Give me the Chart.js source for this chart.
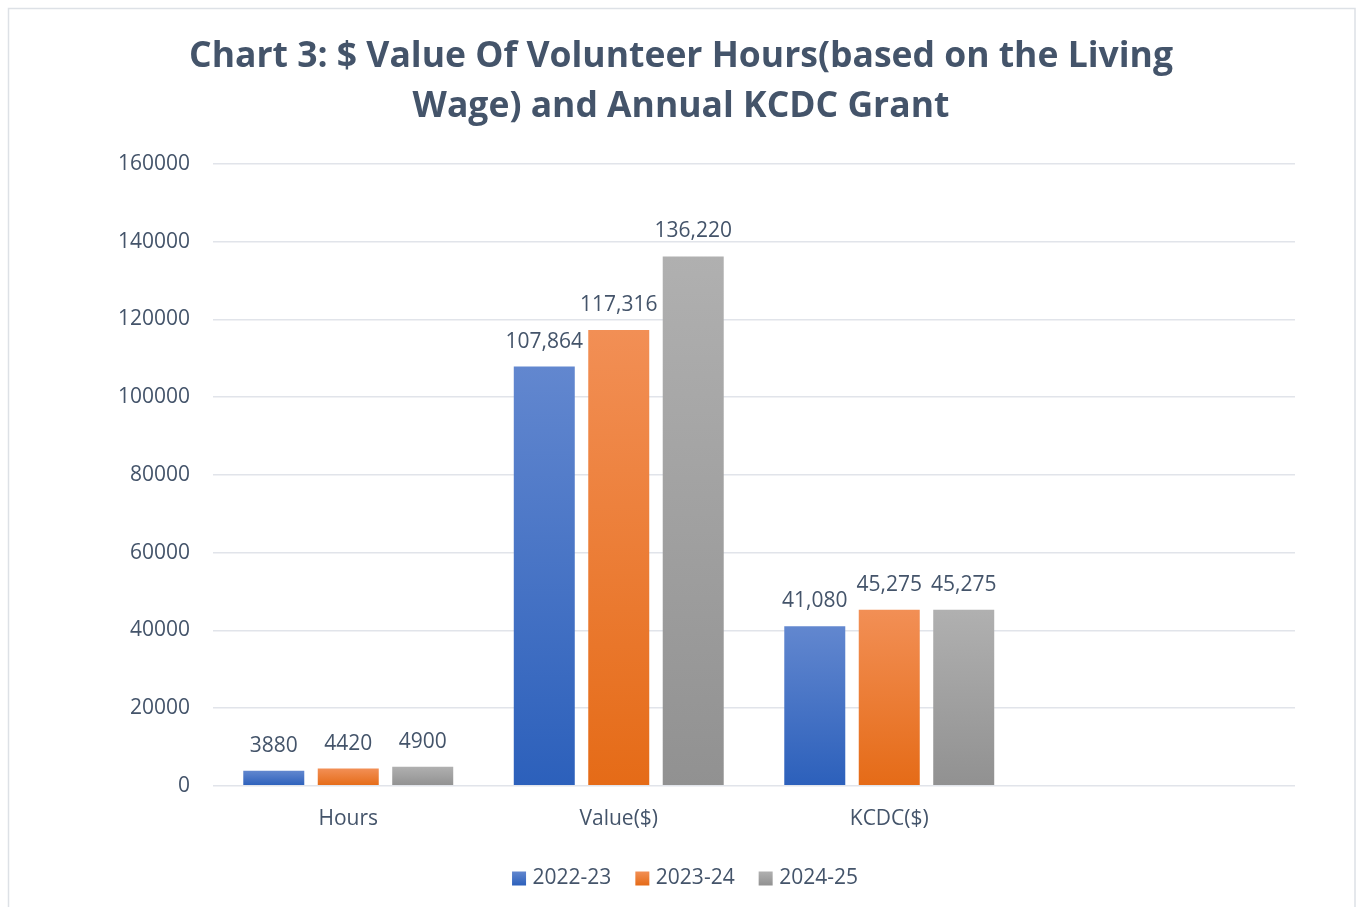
<!DOCTYPE html>
<html>
<head>
<meta charset="utf-8">
<script src="https://cdn.jsdelivr.net/npm/chart.js@4/dist/chart.umd.min.js"></script>
<style>
html,body{margin:0;padding:0;background:#fff;}
#wrap{width:1362px;height:907px;position:relative;}
</style>
</head>
<body>
<div id="wrap"><canvas id="c" width="1362" height="907"></canvas></div>
<script>
const categories = ['Hours', 'Value($)', 'KCDC($)', ''];
const seriesNames = ['2022-23', '2023-24', '2024-25'];
const values2022 = [3880, 107864, 41080, null];
const values2023 = [4420, 117316, 45275, null];
const values2024 = [4900, 136220, 45275, null];
const yTicks = [0, 20000, 40000, 60000, 80000, 100000, 120000, 140000, 160000];
const titleLines = ['Chart 3: $ Value Of Volunteer Hours(based on the Living', 'Wage) and Annual KCDC Grant'];

const FONT = '"Open Sans", sans-serif';
const TEXT = '#44546a';
const grads = [
  ['#6287cf', '#2c60bb'],
  ['#f28f55', '#e56b17'],
  ['#b0b0b0', '#919191']
];

function barFill(i) {
  return function(ctx) {
    const chart = ctx.chart;
    if (!chart.chartArea || ctx.type !== 'data') return grads[i][1];
    const ys = chart.scales.y;
    const v = ctx.raw;
    if (v == null) return grads[i][1];
    const top = ys.getPixelForValue(v);
    const bot = ys.getPixelForValue(0);
    const g = chart.ctx.createLinearGradient(0, top, 0, bot);
    g.addColorStop(0, grads[i][0]);
    g.addColorStop(1, grads[i][1]);
    return g;
  };
}

const frame = {
  id: 'frame',
  beforeDraw(chart) {
    const c = chart.ctx;
    c.save();
    c.fillStyle = '#fff';
    c.fillRect(0, 0, chart.width, chart.height);
    c.strokeStyle = '#dde1e6';
    c.lineWidth = 1.5;
    c.strokeRect(8.5, 8.5, 1346.5, 910);
    c.font = 'bold 35.5px ' + FONT;
    c.fillStyle = TEXT;
    c.textAlign = 'center';
    c.textBaseline = 'middle';
    c.fillText(titleLines[0], 681, 57);
    c.fillText(titleLines[1], 681, 107);
    c.restore();
  }
};

const valueLabels = {
  id: 'valueLabels',
  afterDatasetsDraw(chart) {
    const c = chart.ctx;
    c.save();
    c.font = '21px ' + FONT;
    c.fillStyle = TEXT;
    c.textAlign = 'center';
    c.textBaseline = 'middle';
    chart.data.datasets.forEach((ds, di) => {
      const meta = chart.getDatasetMeta(di);
      meta.data.forEach((el, i) => {
        const v = ds.data[i];
        if (v == null) return;
        const txt = v >= 10000 ? v.toLocaleString('en-US') : String(v);
        c.fillText(txt, el.x, el.y - 25);
      });
    });
    c.restore();
  }
};

const legendBoxes = {
  id: 'legendBoxes',
  afterDraw(chart) {
    const lg = chart.legend;
    if (!lg || !lg.legendHitBoxes) return;
    const c = chart.ctx;
    lg.legendHitBoxes.forEach((hb, i) => {
      const size = 14;
      const x = hb.left;
      const y = hb.top + (hb.height - size) / 2;
      const g = c.createLinearGradient(0, y, 0, y + size);
      g.addColorStop(0, grads[i][0]);
      g.addColorStop(1, grads[i][1]);
      c.fillStyle = '#fff';
      c.fillRect(x - 1, y - 1, size + 2, size + 2);
      c.fillStyle = g;
      c.fillRect(x, y, size, size);
    });
  }
};

new Chart(document.getElementById('c'), {
  type: 'bar',
  data: {
    labels: categories,
    datasets: [
      { label: seriesNames[0], data: values2022, backgroundColor: barFill(0) },
      { label: seriesNames[1], data: values2023, backgroundColor: barFill(1) },
      { label: seriesNames[2], data: values2024, backgroundColor: barFill(2) }
    ]
  },
  options: {
    responsive: false,
    animation: false,
    devicePixelRatio: 1,
    categoryPercentage: 0.826,
    barPercentage: 0.819,
    layout: { padding: { left: 75, right: 67, top: 164, bottom: 8 } },
    plugins: {
      title: { display: false },
      legend: {
        position: 'bottom',
        labels: {
          color: TEXT,
          font: { family: FONT, size: 21 },
          boxWidth: 10,
          boxHeight: 14,
          padding: 24,
          generateLabels(chart) {
            return seriesNames.map((n, i) => ({
              text: n, fillStyle: grads[i][1], strokeStyle: 'rgba(0,0,0,0)', lineWidth: 0, datasetIndex: i, fontColor: TEXT
            }));
          }
        }
      },
      tooltip: { enabled: false }
    },
    scales: {
      x: {
        grid: { display: false },
        border: { display: false },
        afterFit(scale) { scale.height = scale.height - 1; },
        ticks: { color: TEXT, font: { family: FONT, size: 21 }, padding: 13 }
      },
      y: {
        min: 0,
        max: 160000,
        afterBuildTicks(scale) { scale.ticks = yTicks.map(v => ({ value: v })); },
        afterFit(scale) { scale.width = 138; },
        grid: { color: '#e1e4ea', lineWidth: 1.5, drawTicks: false },
        border: { display: false },
        ticks: { color: TEXT, font: { family: FONT, size: 21 }, padding: 23, callback: v => String(v) }
      }
    }
  },
  plugins: [frame, valueLabels, legendBoxes]
});
</script>
</body>
</html>
